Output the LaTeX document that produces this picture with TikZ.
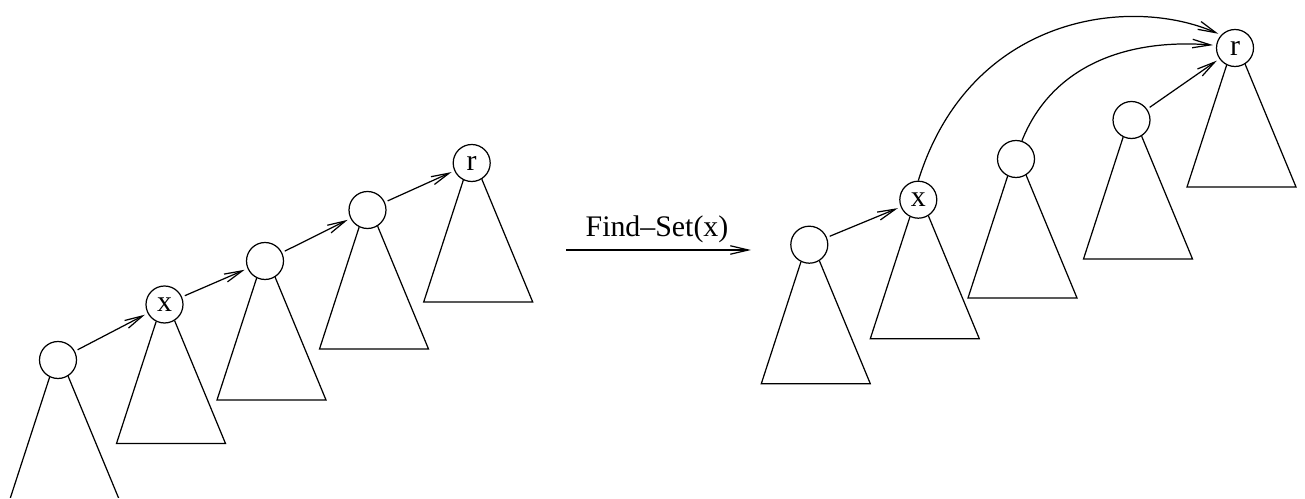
\documentclass[tikz,border=0pt]{standalone}
\usepackage{fontspec}
\setmainfont{Liberation Serif}
\usetikzlibrary{arrows.meta,calc}

\tikzset{
  vtx/.style={circle, draw, inner sep=0pt, minimum size=0.74cm},
  ptr/.style={->, shorten >=0.06cm},
  >={Straight Barb[length=0.36cm,width=0.17cm]},
}
\newcommand{\subtree}[1]{\draw (#1.244) -- ($(#1)+(-48,139)$) -- ($(#1)+(61,139)$) -- (#1.302);}

\begin{document}
\begin{tikzpicture}[x=0.02cm, y=-0.02cm, line width=0.7pt, font=\fontsize{17}{20}\selectfont]
		\useasboundingbox (0,0) rectangle (1305,499);
		\clip (0,0) rectangle (1305,497.5);
		% before
		\node[vtx] (A1) at (58,360) {};
		\node[vtx] (A2) at (164.5,304.5) {x};
		\node[vtx] (A3) at (265,261) {};
		\node[vtx] (A4) at (367.5,210) {};
		\node[vtx] (A5) at (471.7,163) {r};
		% after
		\node[vtx] (B1) at (809.3,244.7) {};
		\node[vtx] (B2) at (918.3,199.7) {x};
		\node[vtx] (B3) at (1016,159) {};
		\node[vtx] (B4) at (1131.5,120) {};
		\node[vtx] (B5) at (1235,48) {r};
		\foreach \n in {A1,A2,A3,A4,A5,B1,B2,B3,B4,B5}
			\subtree{\n};
		\foreach \a/\b in {A1/A2,A2/A3,A3/A4,A4/A5,B1/B2,B4/B5}
			\draw[ptr, shorten <=0.06cm] (\a) -- (\b);
		\draw[ptr] (B2.north) .. controls (970,15) and (1130,-5) .. (B5.137);
		\draw[ptr] (B3.72) .. controls (1050,70) and (1120,38) .. (B5.172);
		\coordinate (F1) at (566,250);
		\coordinate (F2) at (751,250);
		\draw[->] (F1) -- (F2);
		\node[anchor=base] (F) at (657,237) {Find--Set(x)};
		\end{tikzpicture}
\end{document}
